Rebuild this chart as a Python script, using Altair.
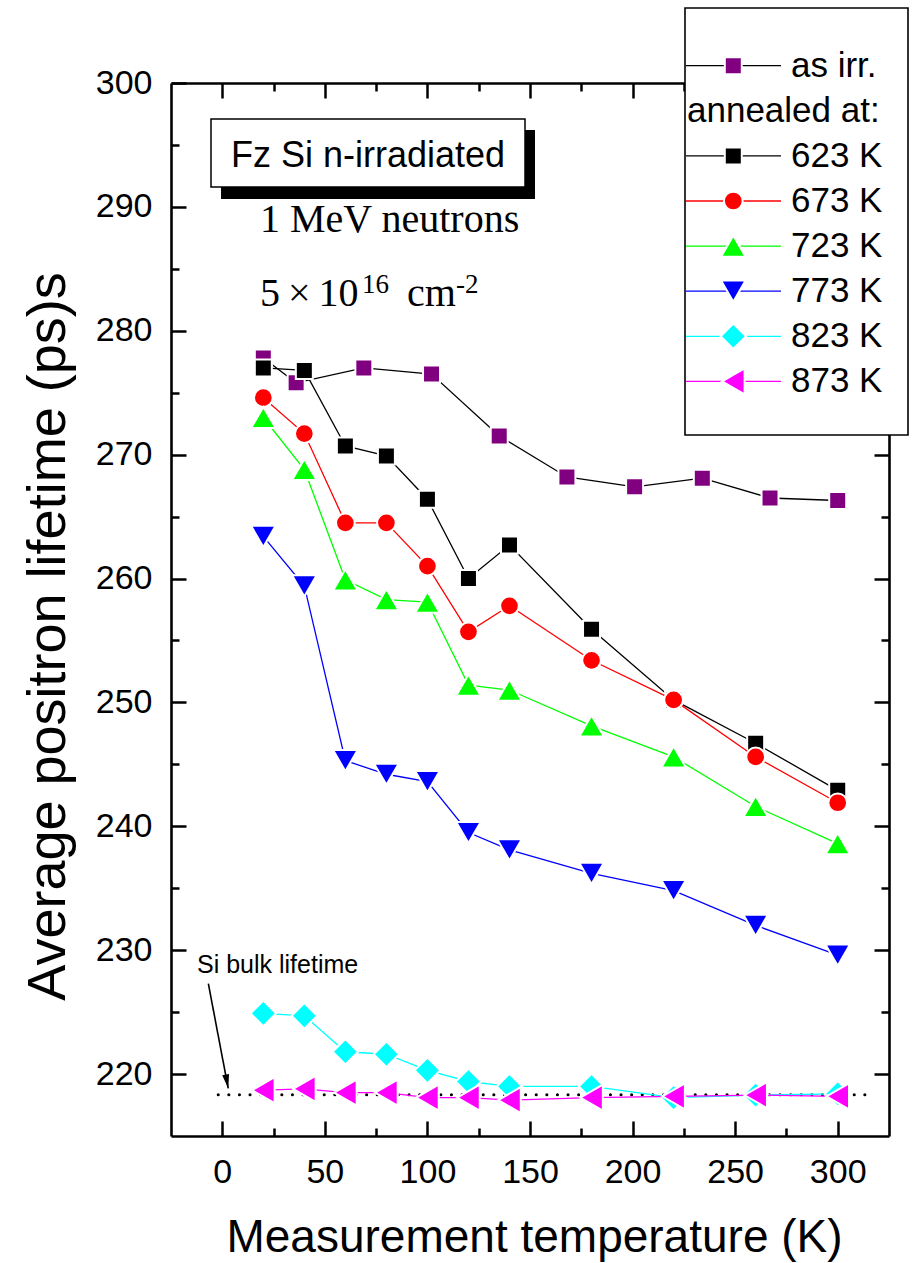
import altair as alt
import pandas as pd

# ---------------- data ----------------
series_names = ["as irr.", "623 K", "673 K", "723 K", "773 K", "823 K", "873 K"]

temps = [20, 40, 60, 80, 100, 120, 140, 180, 220, 260, 300]
temps_as_irr = [20, 36, 69, 102, 135, 168, 201, 234, 267, 300]

tau_as_irr = [277.8, 275.8, 277.0, 276.5, 271.5, 268.2, 267.4, 268.1, 266.5, 266.3]
tau_623 = [277.0, 276.8, 270.7, 269.9, 266.4, 260.0, 262.7, 255.9, 250.2, 246.7, 242.9]
tau_673 = [274.6, 271.7, 264.5, 264.5, 261.0, 255.7, 257.8, 253.4, 250.2, 245.6, 241.9]
tau_723 = [273.0, 268.8, 259.9, 258.3, 258.1, 251.4, 251.0, 248.1, 245.6, 241.6, 238.6]
tau_773 = [263.4, 259.4, 245.3, 244.2, 243.6, 239.5, 238.1, 236.2, 234.8, 232.0, 229.6]
tau_823 = [224.9, 224.7, 221.8, 221.6, 220.3, 219.4, 219.0, 219.0, 218.1, 218.3, 218.4]
tau_873 = [218.7, 218.8, 218.5, 218.5, 218.1, 218.1, 217.9, 218.1, 218.2, 218.3, 218.2]

bulk_T = [-2, 318]
bulk_tau = 218.33
arrow_T = [-6.8, 2.9]
arrow_tau = [227.3, 218.85]

x_major = [0, 50, 100, 150, 200, 250, 300]
x_minor = [25, 75, 125, 175, 225, 275]
y_major = [220, 230, 240, 250, 260, 270, 280, 290, 300]
y_minor = [225, 235, 245, 255, 265, 275, 285, 295]

# ---------------- styles ----------------
marker_colors = ["#800080", "#000000", "#ff0000", "#00ff00", "#0000ff", "#00ffff", "#ff00ff"]
line_colors = ["#000000", "#000000", "#ff0000", "#00ff00", "#0000ff", "#00ffff", "#ff00ff"]
shapes = ["square", "square", "circle", "triangle-up", "triangle-down", "diamond", "triangle-left"]
sizes = [289, 289, 350, 600, 600, 650, 680]

FONT = "Liberation Sans"
SERIF = "Liberation Serif"

temps_by_series = [temps_as_irr] + [temps] * 6
tau_by_series = [tau_as_irr, tau_623, tau_673, tau_723, tau_773, tau_823, tau_873]

# ---------------- layout ----------------
W, H = 718, 1053
LEFT, TOP = 171, 83
X_DOM = [-25, 325]
Y_DOM = [215, 300]


def px_x(px):
    return X_DOM[0] + (px - LEFT) * (X_DOM[1] - X_DOM[0]) / W


def px_y(py):
    return Y_DOM[1] - (py - TOP) * (Y_DOM[1] - Y_DOM[0]) / H


xs = alt.Scale(domain=X_DOM, nice=False, zero=False)
ys = alt.Scale(domain=Y_DOM, nice=False, zero=False)


def X(field, axis=None):
    if axis is None:
        return alt.X(field, type="quantitative", scale=xs, axis=None)
    return alt.X(field, type="quantitative", scale=xs, axis=axis)


def Y(field, axis=None):
    if axis is None:
        return alt.Y(field, type="quantitative", scale=ys, axis=None)
    return alt.Y(field, type="quantitative", scale=ys, axis=axis)


x_axis = alt.Axis(
    values=x_major, title="Measurement temperature (K)", ticks=False, tickSize=0,
    domain=True, domainColor="black", domainWidth=2.6, grid=False,
    labelFont=FONT, labelFontSize=34, labelColor="black", labelPadding=46,
    labelBaseline="alphabetic", labelFlush=False, labelOverlap=False,
    titleFont=FONT, titleFontSize=46, titleFontWeight="normal", titleColor="black",
    titleX=363, titleY=115, titleBaseline="alphabetic",
)
y_axis = alt.Axis(
    values=y_major, title="Average positron lifetime (ps)s", ticks=False, tickSize=0,
    domain=True, domainColor="black", domainWidth=2.6, grid=False,
    labelFont=FONT, labelFontSize=34, labelColor="black", labelPadding=19,
    labelBaseline="middle", labelFlush=False, labelOverlap=False,
    titleFont=FONT, titleFontSize=54, titleFontWeight="normal", titleColor="black",
    titleX=-107, titleY=553, titleBaseline="alphabetic", titleAngle=270,
)

# ----- frame / inward ticks (mirrored axes) -----
dummy = pd.DataFrame({"T": [0], "tau": [220]})


def tick_axis(orient, offset, values, size, domain):
    return alt.Axis(orient=orient, offset=offset, values=values, tickSize=size,
                    tickWidth=2.5, tickColor="black", labels=False, domain=domain,
                    domainColor="black", domainWidth=2.6, grid=False, title=None)


def axis_layer(xa, ya):
    return alt.Chart(dummy).mark_point(opacity=0).encode(x=X("T", xa), y=Y("tau", ya))


layers = [
    axis_layer(x_axis, y_axis),
    axis_layer(tick_axis("top", -H, x_major, 15, False), tick_axis("right", -W, y_major, 15, False)),
    axis_layer(tick_axis("top", -H, x_minor, 8, False), tick_axis("right", -W, y_minor, 8, False)),
    axis_layer(tick_axis("bottom", -H, x_major, 15, True), tick_axis("left", -W, y_major, 15, True)),
    axis_layer(tick_axis("bottom", -H, x_minor, 8, False), tick_axis("left", -W, y_minor, 8, False)),
]

# ----- Si bulk dotted line -----
bulk_df = pd.DataFrame({"T": bulk_T, "tau": [bulk_tau] * len(bulk_T)})
layers.append(alt.Chart(bulk_df).mark_line(color="black", strokeWidth=3, strokeDash=[0.1, 10.5],
                                           strokeCap="round").encode(x=X("T"), y=Y("tau")))

# ----- data series: line, then markers, series by series -----
for i, name in enumerate(series_names):
    df = pd.DataFrame({"T": temps_by_series[i], "tau": tau_by_series[i]})
    layers.append(alt.Chart(df).mark_line(color=line_colors[i], strokeWidth=1.3).encode(
        x=X("T"), y=Y("tau")))
    layers.append(alt.Chart(df).mark_point(
        shape=shapes[i], size=sizes[i], filled=True, fill=marker_colors[i], opacity=1,
        stroke="white", strokeWidth=2).encode(x=X("T"), y=Y("tau")))

# ----- arrow + label -----
arrow_df = pd.DataFrame({"T": arrow_T, "tau": arrow_tau})
layers.append(alt.Chart(arrow_df).mark_line(color="black", strokeWidth=1.6).encode(x=X("T"), y=Y("tau")))
layers.append(alt.Chart(arrow_df.tail(1)).mark_point(
    shape="M-0.5,-2L0,0L0.5,-2Z", filled=True, color="black", opacity=1, size=196, angle=349.3
).encode(x=X("T"), y=Y("tau")))
layers.append(alt.Chart(pd.DataFrame({"x": [px_x(197)], "y": [px_y(973)], "t": ["Si bulk lifetime"]})).mark_text(
    align="left", baseline="alphabetic", font=FONT, fontSize=25, color="black"
).encode(x=X("x"), y=Y("y"), text="t:N"))

# ----- "Fz Si n-irradiated" box with shadow -----
box = dict(x1=px_x(211), x2=px_x(525), y1=px_y(119), y2=px_y(187))
shadow = dict(x1=px_x(221), x2=px_x(535), y1=px_y(130), y2=px_y(199))
layers.append(alt.Chart(pd.DataFrame([shadow])).mark_rect(color="black").encode(
    x=X("x1"), x2="x2:Q", y=Y("y1"), y2="y2:Q"))
layers.append(alt.Chart(pd.DataFrame([box])).mark_rect(fill="white", stroke="black", strokeWidth=1.5).encode(
    x=X("x1"), x2="x2:Q", y=Y("y1"), y2="y2:Q"))
layers.append(alt.Chart(pd.DataFrame({"x": [px_x(368)], "y": [px_y(167)], "t": ["Fz Si n-irradiated"]})).mark_text(
    align="center", baseline="alphabetic", font=FONT, fontSize=36, color="black"
).encode(x=X("x"), y=Y("y"), text="t:N"))

# ----- neutron fluence annotation -----
big_txt = pd.DataFrame({
    "x": [px_x(260), px_x(260), px_x(407)],
    "y": [px_y(232), px_y(306), px_y(306)],
    "t": ["1 MeV neutrons", "5\u2009\u00d7\u200910", "cm"],
})
sup_txt = pd.DataFrame({
    "x": [px_x(362), px_x(456)],
    "y": [px_y(293), px_y(293)],
    "t": ["16", "-2"],
})
layers.append(alt.Chart(big_txt).mark_text(align="left", baseline="alphabetic", font=SERIF, fontSize=40,
                                           color="black").encode(x=X("x"), y=Y("y"), text="t:N"))
layers.append(alt.Chart(sup_txt).mark_text(align="left", baseline="alphabetic", font=SERIF, fontSize=27,
                                           color="black").encode(x=X("x"), y=Y("y"), text="t:N"))

# ----- legend -----
leg_rows = [0, 2, 3, 4, 5, 6, 7]
layers.append(alt.Chart(pd.DataFrame([dict(x1=px_x(685), x2=px_x(908), y1=px_y(8), y2=px_y(435))])).mark_rect(
    fill="white", stroke="black", strokeWidth=1.6).encode(x=X("x1"), x2="x2:Q", y=Y("y1"), y2="y2:Q"))
for i, name in enumerate(series_names):
    v = px_y(65.7 + 45.1 * leg_rows[i])
    row = pd.DataFrame({"x1": [px_x(686)], "x2": [px_x(781)], "xm": [px_x(733.3)],
                        "xt": [px_x(791)], "v": [v], "t": [name]})
    layers.append(alt.Chart(row).mark_rule(color=line_colors[i], strokeWidth=1.3).encode(
        x=X("x1"), x2="x2:Q", y=Y("v")))
    layers.append(alt.Chart(row).mark_point(
        shape=shapes[i], size=sizes[i], filled=True, fill=marker_colors[i], opacity=1,
        stroke="white", strokeWidth=2).encode(x=X("xm"), y=Y("v")))
    layers.append(alt.Chart(row).mark_text(align="left", baseline="middle", font=FONT, fontSize=35,
                                           color="black").encode(x=X("xt"), y=Y("v"), text="t:N"))
layers.append(alt.Chart(pd.DataFrame({"x": [px_x(687)], "y": [px_y(121.7)], "t": ["annealed at:"]})).mark_text(
    align="left", baseline="alphabetic", font=FONT, fontSize=35, color="black"
).encode(x=X("x"), y=Y("y"), text="t:N"))

chart = alt.layer(*layers).resolve_axis(
    x="independent", y="independent"
).properties(
    width=W, height=H,
    autosize=alt.AutoSizeParams(type="none"),
    padding={"left": LEFT, "top": TOP, "right": 915 - LEFT - W, "bottom": 1263 - TOP - H},
).configure(
    background="white"
).configure_view(stroke=None)

chart.save("out.html", embed_options={"renderer": "svg", "actions": False})
